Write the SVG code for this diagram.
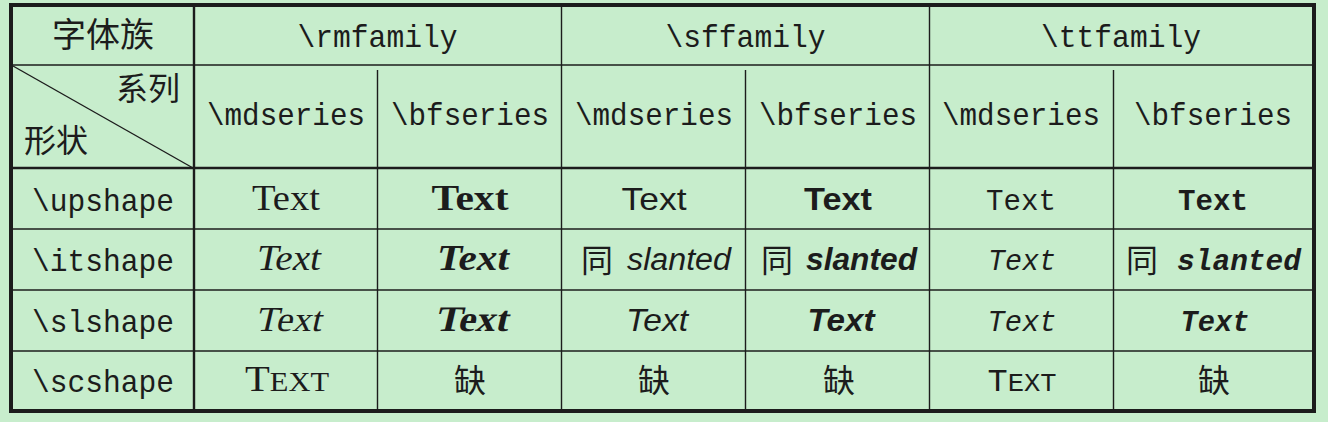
<svg xmlns="http://www.w3.org/2000/svg" width="1328" height="422" viewBox="0 0 1328 422">
<style>
text{fill:#1c1c1c}
.tt{font-family:"Liberation Mono","DejaVu Sans Mono",monospace}
.rm{font-family:"Liberation Serif","DejaVu Serif",serif}
.sf{font-family:"Liberation Sans","DejaVu Sans",sans-serif}
.cj{font-family:"Noto Sans CJK SC","Noto Sans CJK JP",sans-serif;font-size:32px}
.c{text-anchor:middle}
.thin{stroke:#1c1c1c;stroke-width:1.4;fill:none}
.mid{stroke:#1c1c1c;stroke-width:2.4;fill:none}
.thick{stroke:#1c1c1c;stroke-width:4;fill:none}
</style>
<rect x="0" y="0" width="1328" height="422" fill="#C7EDCC"/>
<g id="grid">
<line class="thin" x1="13" y1="65" x2="1312" y2="65"/>
<line class="mid" x1="13" y1="168" x2="1312" y2="168"/>
<line class="thin" x1="13" y1="229" x2="1312" y2="229"/>
<line class="thin" x1="13" y1="290" x2="1312" y2="290"/>
<line class="thin" x1="13" y1="351" x2="1312" y2="351"/>
<line class="mid" x1="194" y1="7" x2="194" y2="409"/>
<line class="thin" x1="561.5" y1="7" x2="561.5" y2="409"/>
<line class="thin" x1="929.5" y1="7" x2="929.5" y2="409"/>
<line class="thin" x1="377.5" y1="70" x2="377.5" y2="409"/>
<line class="thin" x1="745.5" y1="70" x2="745.5" y2="409"/>
<line class="thin" x1="1113.5" y1="70" x2="1113.5" y2="409"/>
<line class="thin" x1="13" y1="66" x2="193" y2="168"/>
<rect class="thick" x="11" y="5" width="1303" height="406"/>
</g>
<g id="corner-top"><text class="cj c" x="103" y="47" style="font-size:34px">字体族</text></g>
<g id="corner-diag">
<text class="cj" x="180" y="100" text-anchor="end">系列</text>
<text class="cj" x="24" y="152">形状</text>
</g>
<g id="h-rm"><text class="tt c" x="377.5" y="47" font-size="32" textLength="160" lengthAdjust="spacingAndGlyphs">\rmfamily</text></g>
<g id="h-sf"><text class="tt c" x="745.5" y="47" font-size="32" textLength="160" lengthAdjust="spacingAndGlyphs">\sffamily</text></g>
<g id="h-tt"><text class="tt c" x="1121" y="47" font-size="32" textLength="160" lengthAdjust="spacingAndGlyphs">\ttfamily</text></g>
<g id="s-rm-md"><text class="tt c" x="286" y="125" font-size="32" textLength="158" lengthAdjust="spacingAndGlyphs">\mdseries</text></g>
<g id="s-rm-bf"><text class="tt c" x="470" y="125" font-size="32" textLength="158" lengthAdjust="spacingAndGlyphs">\bfseries</text></g>
<g id="s-sf-md"><text class="tt c" x="654" y="125" font-size="32" textLength="158" lengthAdjust="spacingAndGlyphs">\mdseries</text></g>
<g id="s-sf-bf"><text class="tt c" x="838" y="125" font-size="32" textLength="158" lengthAdjust="spacingAndGlyphs">\bfseries</text></g>
<g id="s-tt-md"><text class="tt c" x="1021" y="125" font-size="32" textLength="158" lengthAdjust="spacingAndGlyphs">\mdseries</text></g>
<g id="s-tt-bf"><text class="tt c" x="1213" y="125" font-size="32" textLength="158" lengthAdjust="spacingAndGlyphs">\bfseries</text></g>
<g id="r-up"><text class="tt c" x="103" y="211" font-size="32" textLength="142" lengthAdjust="spacingAndGlyphs">\upshape</text></g>
<g id="r-it"><text class="tt c" x="103" y="271" font-size="32" textLength="142" lengthAdjust="spacingAndGlyphs">\itshape</text></g>
<g id="r-sl"><text class="tt c" x="103" y="332" font-size="32" textLength="142" lengthAdjust="spacingAndGlyphs">\slshape</text></g>
<g id="r-sc"><text class="tt c" x="103" y="392" font-size="32" textLength="142" lengthAdjust="spacingAndGlyphs">\scshape</text></g>
<g id="up-row">
<text class="rm c" x="286" y="210" font-size="35" textLength="68" lengthAdjust="spacingAndGlyphs">Text</text>
<text class="rm c" x="470" y="210" font-size="36" font-weight="bold" textLength="77" lengthAdjust="spacingAndGlyphs">Text</text>
<text class="sf c" x="654" y="210" font-size="32" textLength="65" lengthAdjust="spacingAndGlyphs">Text</text>
<text class="sf c" x="838" y="210" font-size="32" font-weight="bold" textLength="68" lengthAdjust="spacingAndGlyphs">Text</text>
<text class="tt c" x="1021" y="210" font-size="30" textLength="70" lengthAdjust="spacingAndGlyphs">Text</text>
<text class="tt c" x="1213" y="210" font-size="30" font-weight="bold" textLength="70" lengthAdjust="spacingAndGlyphs">Text</text>
</g>
<g id="it-row">
<text class="rm c" x="289" y="270" font-size="35" font-style="italic" textLength="64" lengthAdjust="spacingAndGlyphs">Text</text>
<text class="rm c" x="473" y="270" font-size="35" font-style="italic" font-weight="bold" textLength="72" lengthAdjust="spacingAndGlyphs">Text</text>
<text class="cj" x="581" y="272">同</text>
<text class="sf" x="627" y="270" font-size="31" font-style="italic" textLength="104" lengthAdjust="spacingAndGlyphs">slanted</text>
<text class="cj" x="761" y="272">同</text>
<text class="sf" x="806" y="270" font-size="31" font-style="italic" font-weight="bold" textLength="111" lengthAdjust="spacingAndGlyphs">slanted</text>
<text class="tt c" x="1022" y="270" font-size="30" font-style="italic" textLength="68" lengthAdjust="spacingAndGlyphs">Text</text>
<text class="cj" x="1126" y="272">同</text>
<text class="tt" x="1177" y="270" font-size="30" font-style="italic" font-weight="bold" textLength="124" lengthAdjust="spacingAndGlyphs">slanted</text>
</g>
<g id="sl-row">
<text class="rm c" transform="translate(288,331) skewX(-13)" font-size="35" textLength="66" lengthAdjust="spacingAndGlyphs">Text</text>
<text class="rm c" transform="translate(471,331) skewX(-13)" font-size="36" font-weight="bold" textLength="73" lengthAdjust="spacingAndGlyphs">Text</text>
<text class="sf c" x="657" y="331" font-size="32" font-style="italic" textLength="62" lengthAdjust="spacingAndGlyphs">Text</text>
<text class="sf c" x="841" y="331" font-size="32" font-style="italic" font-weight="bold" textLength="67" lengthAdjust="spacingAndGlyphs">Text</text>
<text class="tt c" x="1022" y="331" font-size="30" font-style="italic" textLength="69" lengthAdjust="spacingAndGlyphs">Text</text>
<text class="tt c" x="1215" y="331" font-size="30" font-style="italic" font-weight="bold" textLength="69" lengthAdjust="spacingAndGlyphs">Text</text>
</g>
<g id="sc-row">
<text class="rm c" x="287" y="391" font-size="36" textLength="84" lengthAdjust="spacingAndGlyphs">T<tspan font-size="27">EXT</tspan></text>
<text class="cj c" x="470" y="392">缺</text>
<text class="cj c" x="654" y="392">缺</text>
<text class="cj c" x="839" y="392">缺</text>
<text class="tt c" x="1022" y="391" font-size="31" textLength="69" lengthAdjust="spacingAndGlyphs">T<tspan font-size="25">EXT</tspan></text>
<text class="cj c" x="1214" y="392">缺</text>
</g>
</svg>
